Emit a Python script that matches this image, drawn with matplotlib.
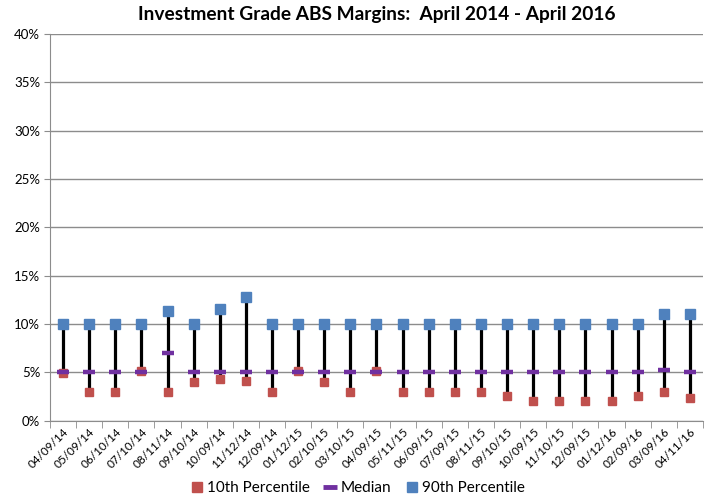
import numpy as np
import matplotlib.pyplot as plt
from matplotlib.lines import Line2D

plt.rcParams['font.family'] = ['Lato', 'DejaVu Sans']

# data (percent)
dates = ['04/09/14', '05/09/14', '06/10/14', '07/10/14', '08/11/14', '09/10/14',
         '10/09/14', '11/12/14', '12/09/14', '01/12/15', '02/10/15', '03/10/15',
         '04/09/15', '05/11/15', '06/09/15', '07/09/15', '08/11/15', '09/10/15',
         '10/09/15', '11/10/15', '12/09/15', '01/12/16', '02/09/16', '03/09/16',
         '04/11/16']
p10 = [4.9, 3.0, 3.0, 5.1, 3.0, 4.0, 4.35, 4.05, 3.0, 5.1, 4.0, 3.0,
       5.1, 3.0, 3.0, 3.0, 3.0, 2.5, 2.0, 2.0, 2.0, 2.0, 2.5, 3.0, 2.35]
median = [5.0, 5.0, 5.0, 5.0, 7.0, 5.0, 5.0, 5.0, 5.0, 5.0, 5.0, 5.0,
          5.0, 5.0, 5.0, 5.0, 5.0, 5.0, 5.0, 5.0, 5.0, 5.0, 5.0, 5.2, 5.0]
p90 = [10.0, 10.0, 10.0, 10.0, 11.3, 10.0, 11.5, 12.8, 10.0, 10.0, 10.0, 10.0,
       10.0, 10.0, 10.0, 10.0, 10.0, 10.0, 10.0, 10.0, 10.0, 10.0, 10.0, 11.0, 11.0]

red = '#C0504D'
purple = '#7030A0'
blue = '#4F81BD'

fig = plt.figure(figsize=(7.16, 5.01), dpi=100)
ax = fig.add_axes([0.0698, 0.1605, 0.912, 0.7715])

x = np.arange(len(dates))
lo = np.minimum(np.minimum(p10, median), p90)
hi = np.maximum(np.maximum(p10, median), p90)
ax.vlines(x, lo, hi, color='black', lw=2.3, zorder=2)

ax.plot(x, p10, 's', color=red, ms=6.3, ls='none', zorder=3, label='10th Percentile')
ax.plot(x, median, '_', color=purple, ms=9, mew=3.2, ls='none', zorder=4, label='Median')
ax.plot(x, p90, 's', color=blue, ms=7, ls='none', zorder=3, label='90th Percentile')

ax.set_xlim(-0.5, len(dates) - 0.5)
ax.set_ylim(0, 40)
ax.set_yticks(np.arange(0, 41, 5))
ax.set_yticklabels(['{}%'.format(v) for v in range(0, 41, 5)], fontsize=9.5)
ax.yaxis.grid(True, color='#8C8C8C', lw=1)
ax.set_axisbelow(True)

ax.set_xticks(x)
ax.set_xticklabels(dates, rotation=45, ha='right', rotation_mode='anchor', fontsize=8.5)
ax.set_xticks(np.arange(-0.5, len(dates), 1), minor=True)
ax.tick_params(axis='x', which='major', length=0, pad=4)
ax.tick_params(axis='x', which='minor', length=5, color='#8C8C8C')
ax.tick_params(axis='y', length=4, color='#8C8C8C', pad=3)

for s in ['top', 'right']:
    ax.spines[s].set_visible(False)
ax.spines['left'].set_color('#8C8C8C')
ax.spines['bottom'].set_color('#8C8C8C')

fig.suptitle('Investment Grade ABS Margins:  April 2014 - April 2016',
             fontsize=13.8, fontweight='bold', x=0.526, y=0.988)

handles = [Line2D([], [], marker='s', color=red, ls='none', ms=6.5),
           Line2D([], [], marker='_', color=purple, ls='none', ms=10, mew=3.5),
           Line2D([], [], marker='s', color=blue, ls='none', ms=6.5)]
fig.legend(handles, ['10th Percentile', 'Median', '90th Percentile'],
           loc='center', bbox_to_anchor=(0.5, 0.026), ncol=3, frameon=False,
           fontsize=11, handlelength=0.7, handletextpad=0.3, columnspacing=1.0)

fig.savefig('out.png', dpi=100)
